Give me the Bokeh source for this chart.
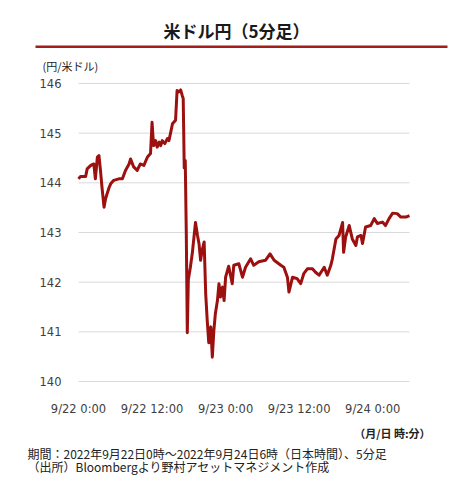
import pandas as pd
from bokeh.plotting import figure
from bokeh.models import Range1d, FixedTicker, Label, BoxAnnotation
from bokeh.embed import file_html
from bokeh.resources import INLINE

# ---- data ----
times = [
    "2022-09-22 00:00", "2022-09-22 00:20", "2022-09-22 01:10", "2022-09-22 01:25",
    "2022-09-22 02:00", "2022-09-22 02:30", "2022-09-22 02:45", "2022-09-22 03:05",
    "2022-09-22 03:20", "2022-09-22 03:35", "2022-09-22 03:50", "2022-09-22 04:10",
    "2022-09-22 04:25", "2022-09-22 04:40", "2022-09-22 05:00", "2022-09-22 05:15",
    "2022-09-22 05:45", "2022-09-22 06:35", "2022-09-22 07:10", "2022-09-22 07:40",
    "2022-09-22 08:15", "2022-09-22 08:30", "2022-09-22 09:00", "2022-09-22 09:35",
    "2022-09-22 10:05", "2022-09-22 10:40", "2022-09-22 11:15", "2022-09-22 11:45",
    "2022-09-22 12:00", "2022-09-22 12:15", "2022-09-22 12:35", "2022-09-22 12:50",
    "2022-09-22 13:10", "2022-09-22 13:25", "2022-09-22 13:40", "2022-09-22 14:05",
    "2022-09-22 14:30", "2022-09-22 14:45", "2022-09-22 15:00", "2022-09-22 15:20",
    "2022-09-22 15:50", "2022-09-22 16:05", "2022-09-22 16:20", "2022-09-22 16:40",
    "2022-09-22 16:55", "2022-09-22 17:05", "2022-09-22 17:15", "2022-09-22 17:25",
    "2022-09-22 17:35", "2022-09-22 17:45", "2022-09-22 17:55", "2022-09-22 18:15",
    "2022-09-22 18:35", "2022-09-22 18:50", "2022-09-22 19:05", "2022-09-22 19:25",
    "2022-09-22 19:40", "2022-09-22 19:55", "2022-09-22 20:10", "2022-09-22 20:30",
    "2022-09-22 20:45", "2022-09-22 21:00", "2022-09-22 21:15", "2022-09-22 21:35",
    "2022-09-22 21:50", "2022-09-22 22:05", "2022-09-22 22:20", "2022-09-22 22:40",
    "2022-09-22 22:55", "2022-09-22 23:10", "2022-09-22 23:30", "2022-09-22 23:45",
    "2022-09-23 00:00", "2022-09-23 00:30", "2022-09-23 01:05", "2022-09-23 01:20",
    "2022-09-23 02:10", "2022-09-23 02:45", "2022-09-23 03:15", "2022-09-23 04:05",
    "2022-09-23 04:35", "2022-09-23 05:25", "2022-09-23 06:30", "2022-09-23 07:15",
    "2022-09-23 07:55", "2022-09-23 09:00", "2022-09-23 09:30", "2022-09-23 10:05",
    "2022-09-23 10:20", "2022-09-23 10:55", "2022-09-23 11:40", "2022-09-23 12:15",
    "2022-09-23 12:45", "2022-09-23 13:20", "2022-09-23 14:10", "2022-09-23 14:40",
    "2022-09-23 15:15", "2022-09-23 16:05", "2022-09-23 16:35", "2022-09-23 17:10",
    "2022-09-23 17:25", "2022-09-23 18:00", "2022-09-23 18:30", "2022-09-23 19:05",
    "2022-09-23 19:15", "2022-09-23 19:35", "2022-09-23 20:10", "2022-09-23 20:40",
    "2022-09-23 21:15", "2022-09-23 21:30", "2022-09-23 22:05", "2022-09-23 22:20",
    "2022-09-23 22:50", "2022-09-23 23:40", "2022-09-24 00:15", "2022-09-24 00:45",
    "2022-09-24 01:35", "2022-09-24 02:05", "2022-09-24 02:40", "2022-09-24 03:15",
    "2022-09-24 04:00", "2022-09-24 04:35", "2022-09-24 05:25", "2022-09-24 06:00",
]
usdjpy = [
    144.08, 144.13, 144.13, 144.28,
    144.35, 144.38, 144.08, 144.52,
    144.55, 144.25, 143.91, 143.51,
    143.68, 143.78, 143.91, 143.98,
    144.05, 144.08, 144.08, 144.25,
    144.38, 144.48, 144.32, 144.25,
    144.38, 144.35, 144.52, 144.59,
    145.22, 144.75, 144.85, 144.72,
    144.82, 144.75, 144.85, 144.79,
    144.89, 144.85, 144.99, 145.19,
    145.26, 145.86, 145.83, 145.87,
    145.76, 145.70, 144.30, 144.45,
    143.00, 140.98, 142.05, 142.30,
    142.60, 142.90, 143.20, 142.94,
    142.77, 142.44, 142.64, 142.81,
    141.77, 141.23, 140.78, 141.10,
    140.49, 141.03, 141.37, 141.63,
    141.97, 141.70, 141.90, 141.63,
    142.10, 142.32, 141.97, 142.34,
    142.37, 142.10, 142.30, 142.47,
    142.34, 142.41, 142.44, 142.57,
    142.44, 142.34, 142.30, 142.10,
    141.80, 142.10, 142.07, 141.97,
    142.17, 142.27, 142.27, 142.20,
    142.14, 142.30, 142.14, 142.34,
    142.47, 142.87, 142.94, 143.20,
    142.60, 142.91, 143.14, 142.87,
    142.74, 142.91, 142.94, 142.78,
    143.11, 143.14, 143.28, 143.18,
    143.21, 143.14, 143.28, 143.39,
    143.38, 143.31, 143.31, 143.34,
]
x_tick_times = ["2022-09-22 00:00", "2022-09-22 12:00", "2022-09-23 00:00",
                "2022-09-23 12:00", "2022-09-24 00:00"]
x_tick_labels = ["9/22 0:00", "9/22 12:00", "9/23 0:00", "9/23 12:00", "9/24 0:00"]
y_ticks = [140, 141, 142, 143, 144, 145, 146]

title_text = "米ドル円（5分足）"
unit_text = "(円/米ドル)"
xunit_text = "（月/日 時:分）"
note_lines = ["期間：2022年9月22日0時～2022年9月24日6時（日本時間）、5分足",
              "（出所）Bloombergより野村アセットマネジメント作成"]

start = pd.Timestamp("2022-09-22 00:00")
end = pd.Timestamp("2022-09-24 06:00")
hrs = lambda s: (pd.to_datetime(s) - start) / pd.Timedelta(hours=1)
xh = list(hrs(pd.Series(times)))
tick_h = [float(v) for v in hrs(pd.Series(x_tick_times))]
end_h = float(hrs(pd.Series([end]))[0])
y_lo, y_hi = y_ticks[0], y_ticks[-1]

JP = "Noto Sans CJK JP"
RED = "#9c1010"
RULE = "#a31d1d"
TXT = "#222222"

# canvas and plot-area placement (pixels, top-left origin)
W, H = 476, 477
PL, PR, PT, PB = 78, 409, 83, 381

# the whole canvas is the frame; the data area is mapped into [PL,PR] x [PT,PB]
kx = (PR - PL) / end_h
ky = (PB - PT) / (y_hi - y_lo)
x_range = Range1d(-PL / kx, end_h + (W - PR) / kx)
y_range = Range1d(y_lo - (H - PB) / ky, y_hi + PT / ky)

p = figure(width=W, height=H, output_backend="svg", toolbar_location=None,
           x_range=x_range, y_range=y_range,
           min_border=0, min_border_left=0, min_border_right=0,
           min_border_top=0, min_border_bottom=0)
p.outline_line_color = None
p.background_fill_color = "white"
p.border_fill_color = "white"
p.xgrid.grid_line_color = None
p.ygrid.grid_line_color = None

# horizontal gridlines across the data span only
p.segment(x0=[0] * len(y_ticks), x1=[end_h] * len(y_ticks), y0=y_ticks, y1=y_ticks,
          line_color="#d9d9d9", line_width=1)

p.line(xh, usdjpy, line_color=RED, line_width=3, line_join="round")

# axes pinned to the data area
p.xaxis.fixed_location = y_lo
p.yaxis.fixed_location = 0
p.xaxis.ticker = FixedTicker(ticks=tick_h)
p.xaxis.major_label_overrides = {t: l for t, l in zip(tick_h, x_tick_labels)}
p.yaxis.ticker = FixedTicker(ticks=y_ticks)
for ax in (p.xaxis, p.yaxis):
    ax.axis_line_color = None
    ax.major_tick_line_color = None
    ax.minor_tick_line_color = None
    ax.major_label_text_font = "DejaVu Sans"
    ax.major_label_text_color = "#404040"
    ax.major_label_text_font_size = "11.5px"
p.xaxis.major_label_standoff = 14
p.yaxis.major_label_standoff = 11


def lab(cx, cy, text, size, bold=False, align="left", color=TXT):
    p.add_layout(Label(x=cx, y=H - cy, x_units="screen", y_units="screen", text=text,
                       text_font=JP, text_font_size=size,
                       text_font_style="bold" if bold else "normal",
                       text_align=align, text_baseline="middle", text_color=color))


lab(236, 30, title_text, "17px", bold=True, align="center", color="#1a1a1a")
p.add_layout(BoxAnnotation(left=35, right=447, top=H - 45, bottom=H - 47.4,
                           left_units="screen", right_units="screen",
                           bottom_units="screen", top_units="screen",
                           fill_color=RULE, fill_alpha=1, line_color=None))
lab(42, 65, unit_text, "11px")
lab(430, 432, xunit_text, "11px", bold=True, align="right")
lab(27, 453, note_lines[0], "12px")
lab(27, 466, note_lines[1], "12px")

open("out.html", "w").write(file_html(p, INLINE))
